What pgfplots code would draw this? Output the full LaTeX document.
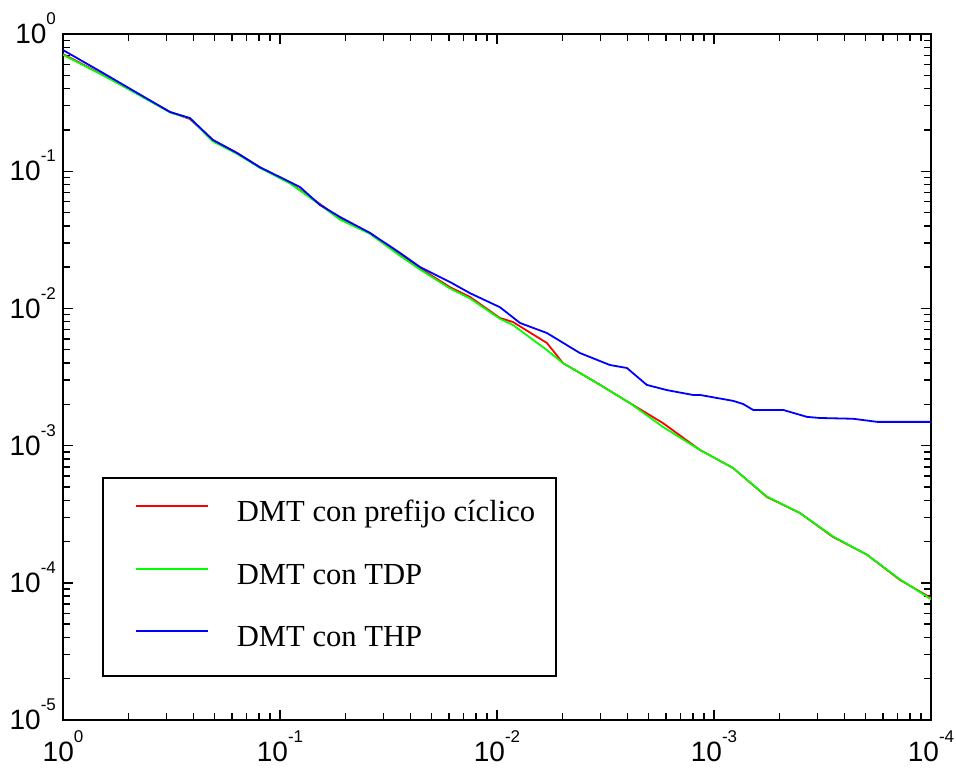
\documentclass[border=0pt]{standalone}
\usepackage{fontspec}
\setmainfont{Liberation Serif}
\newfontfamily\arialf{Liberation Sans}
\usepackage{pgfplots}
\pgfplotsset{compat=1.18}

% tick label: 10 with a raised exponent, in the sans font
\newcommand\tl[1]{10\raisebox{0.68em}[0pt][0pt]{\fontsize{8.5}{8.5}\selectfont #1}}

\begin{document}
\begin{tikzpicture}
\begin{axis}[
    name=ax, at={(0pt,0pt)}, anchor=south west,
    scale only axis, width=434pt, height=343pt,
    xmode=log, ymode=log,
    x dir=reverse,
    xmin=1e-4, xmax=1, ymin=1e-5, ymax=1,
    xtick={1,0.1,0.01,0.001,0.0001},
    xticklabels={\tl{0},\tl{-1},\tl{-2},\tl{-3},\tl{-4}},
    ytick={1,0.1,0.01,0.001,0.0001,0.00001},
    yticklabels={\tl{0},\tl{-1},\tl{-2},\tl{-3},\tl{-4},\tl{-5}},
    tick align=inside,
    major tick length=5pt, minor tick length=3.3pt,
    tick style={draw=black, line width=0.6pt},
    axis line style={line width=1.2pt},
    tick label style={font=\arialf\fontsize{14}{16}\selectfont},
    xticklabel style={inner sep=0pt, yshift=-11pt},
    unbounded coords=jump,
    legend cell align=left,
    legend image code/.code={\draw[#1] (0pt,4pt) -- (36pt,4pt);},
    legend style={at={(rel axis cs:0.045,0.063)}, anchor=south west,
        draw=black, line width=1pt, inner xsep=16pt, inner ysep=11.5pt,
        row sep=17.75pt, column sep=14pt,
        font=\fontsize{15.3}{17}\selectfont,
        nodes={inner sep=0pt, text height=10.5pt, text depth=3pt}},
]
% tick marks on all four sides as short segments (major 5pt, minor 3.3pt)
\addplot[black, line width=0.7pt, forget plot] coordinates {
(1,1e-5) (1,1.1827e-5) (1,nan) (0.1,1e-5) (0.1,1.1827e-5) (0.1,nan)
(0.01,1e-5) (0.01,1.1827e-5) (0.01,nan) (0.001,1e-5) (0.001,1.1827e-5) (0.001,nan)
(0.0001,1e-5) (0.0001,1.1827e-5) (0.0001,nan)
(0.1,1) (0.1,0.8455) (0.1,nan) (0.01,1) (0.01,0.8455) (0.01,nan)
(0.001,1) (0.001,0.8455) (0.001,nan)
(0.5,1e-5) (0.5,1.117e-5) (0.5,nan) (0.33333,1e-5) (0.33333,1.117e-5) (0.33333,nan)
(0.25,1e-5) (0.25,1.117e-5) (0.25,nan) (0.2,1e-5) (0.2,1.117e-5) (0.2,nan)
(0.16667,1e-5) (0.16667,1.117e-5) (0.16667,nan) (0.14286,1e-5) (0.14286,1.117e-5) (0.14286,nan)
(0.125,1e-5) (0.125,1.117e-5) (0.125,nan) (0.11111,1e-5) (0.11111,1.117e-5) (0.11111,nan)
(0.05,1e-5) (0.05,1.117e-5) (0.05,nan) (0.033333,1e-5) (0.033333,1.117e-5) (0.033333,nan)
(0.025,1e-5) (0.025,1.117e-5) (0.025,nan) (0.02,1e-5) (0.02,1.117e-5) (0.02,nan)
(0.016667,1e-5) (0.016667,1.117e-5) (0.016667,nan) (0.014286,1e-5) (0.014286,1.117e-5) (0.014286,nan)
(0.0125,1e-5) (0.0125,1.117e-5) (0.0125,nan) (0.011111,1e-5) (0.011111,1.117e-5) (0.011111,nan)
(0.005,1e-5) (0.005,1.117e-5) (0.005,nan) (0.0033333,1e-5) (0.0033333,1.117e-5) (0.0033333,nan)
(0.0025,1e-5) (0.0025,1.117e-5) (0.0025,nan) (0.002,1e-5) (0.002,1.117e-5) (0.002,nan)
(0.0016667,1e-5) (0.0016667,1.117e-5) (0.0016667,nan) (0.0014286,1e-5) (0.0014286,1.117e-5) (0.0014286,nan)
(0.00125,1e-5) (0.00125,1.117e-5) (0.00125,nan) (0.0011111,1e-5) (0.0011111,1.117e-5) (0.0011111,nan)
(0.0005,1e-5) (0.0005,1.117e-5) (0.0005,nan) (0.00033333,1e-5) (0.00033333,1.117e-5) (0.00033333,nan)
(0.00025,1e-5) (0.00025,1.117e-5) (0.00025,nan) (0.0002,1e-5) (0.0002,1.117e-5) (0.0002,nan)
(0.00016667,1e-5) (0.00016667,1.117e-5) (0.00016667,nan) (0.00014286,1e-5) (0.00014286,1.117e-5) (0.00014286,nan)
(0.000125,1e-5) (0.000125,1.117e-5) (0.000125,nan) (0.00011111,1e-5) (0.00011111,1.117e-5) (0.00011111,nan)
(0.5,1) (0.5,0.8953) (0.5,nan) (0.33333,1) (0.33333,0.8953) (0.33333,nan)
(0.25,1) (0.25,0.8953) (0.25,nan) (0.2,1) (0.2,0.8953) (0.2,nan)
(0.16667,1) (0.16667,0.8953) (0.16667,nan) (0.14286,1) (0.14286,0.8953) (0.14286,nan)
(0.125,1) (0.125,0.8953) (0.125,nan) (0.11111,1) (0.11111,0.8953) (0.11111,nan)
(0.05,1) (0.05,0.8953) (0.05,nan) (0.033333,1) (0.033333,0.8953) (0.033333,nan)
(0.025,1) (0.025,0.8953) (0.025,nan) (0.02,1) (0.02,0.8953) (0.02,nan)
(0.016667,1) (0.016667,0.8953) (0.016667,nan) (0.014286,1) (0.014286,0.8953) (0.014286,nan)
(0.0125,1) (0.0125,0.8953) (0.0125,nan) (0.011111,1) (0.011111,0.8953) (0.011111,nan)
(0.005,1) (0.005,0.8953) (0.005,nan) (0.0033333,1) (0.0033333,0.8953) (0.0033333,nan)
(0.0025,1) (0.0025,0.8953) (0.0025,nan) (0.002,1) (0.002,0.8953) (0.002,nan)
(0.0016667,1) (0.0016667,0.8953) (0.0016667,nan) (0.0014286,1) (0.0014286,0.8953) (0.0014286,nan)
(0.00125,1) (0.00125,0.8953) (0.00125,nan) (0.0011111,1) (0.0011111,0.8953) (0.0011111,nan)
(0.0005,1) (0.0005,0.8953) (0.0005,nan) (0.00033333,1) (0.00033333,0.8953) (0.00033333,nan)
(0.00025,1) (0.00025,0.8953) (0.00025,nan) (0.0002,1) (0.0002,0.8953) (0.0002,nan)
(0.00016667,1) (0.00016667,0.8953) (0.00016667,nan) (0.00014286,1) (0.00014286,0.8953) (0.00014286,nan)
(0.000125,1) (0.000125,0.8953) (0.000125,nan) (0.00011111,1) (0.00011111,0.8953) (0.00011111,nan)
(1,0.1) (0.8993,0.1) (nan,0.1) (1,0.01) (0.8993,0.01) (nan,0.01)
(1,0.001) (0.8993,0.001) (nan,0.001) (1,0.0001) (0.8993,0.0001) (nan,0.0001)
(0.0001,0.1) (1.112e-4,0.1) (nan,0.1) (0.0001,0.01) (1.112e-4,0.01) (nan,0.01)
(0.0001,0.001) (1.112e-4,0.001) (nan,0.001) (0.0001,0.0001) (1.112e-4,0.0001) (nan,0.0001)
(1,0.9) (0.9324,0.9) (nan,0.9) (1,0.8) (0.9324,0.8) (nan,0.8) (1,0.7) (0.9324,0.7) (nan,0.7)
(1,0.6) (0.9324,0.6) (nan,0.6) (1,0.5) (0.9324,0.5) (nan,0.5) (1,0.4) (0.9324,0.4) (nan,0.4)
(1,0.3) (0.9324,0.3) (nan,0.3) (1,0.2) (0.9324,0.2) (nan,0.2)
(1,0.09) (0.9324,0.09) (nan,0.09) (1,0.08) (0.9324,0.08) (nan,0.08) (1,0.07) (0.9324,0.07) (nan,0.07)
(1,0.06) (0.9324,0.06) (nan,0.06) (1,0.05) (0.9324,0.05) (nan,0.05) (1,0.04) (0.9324,0.04) (nan,0.04)
(1,0.03) (0.9324,0.03) (nan,0.03) (1,0.02) (0.9324,0.02) (nan,0.02)
(1,0.009) (0.9324,0.009) (nan,0.009) (1,0.008) (0.9324,0.008) (nan,0.008) (1,0.007) (0.9324,0.007) (nan,0.007)
(1,0.006) (0.9324,0.006) (nan,0.006) (1,0.005) (0.9324,0.005) (nan,0.005) (1,0.004) (0.9324,0.004) (nan,0.004)
(1,0.003) (0.9324,0.003) (nan,0.003) (1,0.002) (0.9324,0.002) (nan,0.002)
(1,0.0009) (0.9324,0.0009) (nan,0.0009) (1,0.0008) (0.9324,0.0008) (nan,0.0008) (1,0.0007) (0.9324,0.0007) (nan,0.0007)
(1,0.0006) (0.9324,0.0006) (nan,0.0006) (1,0.0005) (0.9324,0.0005) (nan,0.0005) (1,0.0004) (0.9324,0.0004) (nan,0.0004)
(1,0.0003) (0.9324,0.0003) (nan,0.0003) (1,0.0002) (0.9324,0.0002) (nan,0.0002)
(1,0.00009) (0.9324,0.00009) (nan,0.00009) (1,0.00008) (0.9324,0.00008) (nan,0.00008) (1,0.00007) (0.9324,0.00007) (nan,0.00007)
(1,0.00006) (0.9324,0.00006) (nan,0.00006) (1,0.00005) (0.9324,0.00005) (nan,0.00005) (1,0.00004) (0.9324,0.00004) (nan,0.00004)
(1,0.00003) (0.9324,0.00003) (nan,0.00003) (1,0.00002) (0.9324,0.00002) (nan,0.00002)
(0.0001,0.9) (1.0725e-4,0.9) (nan,0.9) (0.0001,0.8) (1.0725e-4,0.8) (nan,0.8) (0.0001,0.7) (1.0725e-4,0.7) (nan,0.7)
(0.0001,0.6) (1.0725e-4,0.6) (nan,0.6) (0.0001,0.5) (1.0725e-4,0.5) (nan,0.5) (0.0001,0.4) (1.0725e-4,0.4) (nan,0.4)
(0.0001,0.3) (1.0725e-4,0.3) (nan,0.3) (0.0001,0.2) (1.0725e-4,0.2) (nan,0.2)
(0.0001,0.09) (1.0725e-4,0.09) (nan,0.09) (0.0001,0.08) (1.0725e-4,0.08) (nan,0.08) (0.0001,0.07) (1.0725e-4,0.07) (nan,0.07)
(0.0001,0.06) (1.0725e-4,0.06) (nan,0.06) (0.0001,0.05) (1.0725e-4,0.05) (nan,0.05) (0.0001,0.04) (1.0725e-4,0.04) (nan,0.04)
(0.0001,0.03) (1.0725e-4,0.03) (nan,0.03) (0.0001,0.02) (1.0725e-4,0.02) (nan,0.02)
(0.0001,0.009) (1.0725e-4,0.009) (nan,0.009) (0.0001,0.008) (1.0725e-4,0.008) (nan,0.008) (0.0001,0.007) (1.0725e-4,0.007) (nan,0.007)
(0.0001,0.006) (1.0725e-4,0.006) (nan,0.006) (0.0001,0.005) (1.0725e-4,0.005) (nan,0.005) (0.0001,0.004) (1.0725e-4,0.004) (nan,0.004)
(0.0001,0.003) (1.0725e-4,0.003) (nan,0.003) (0.0001,0.002) (1.0725e-4,0.002) (nan,0.002)
(0.0001,0.0009) (1.0725e-4,0.0009) (nan,0.0009) (0.0001,0.0008) (1.0725e-4,0.0008) (nan,0.0008) (0.0001,0.0007) (1.0725e-4,0.0007) (nan,0.0007)
(0.0001,0.0006) (1.0725e-4,0.0006) (nan,0.0006) (0.0001,0.0005) (1.0725e-4,0.0005) (nan,0.0005) (0.0001,0.0004) (1.0725e-4,0.0004) (nan,0.0004)
(0.0001,0.0003) (1.0725e-4,0.0003) (nan,0.0003) (0.0001,0.0002) (1.0725e-4,0.0002) (nan,0.0002)
(0.0001,0.00009) (1.0725e-4,0.00009) (nan,0.00009) (0.0001,0.00008) (1.0725e-4,0.00008) (nan,0.00008) (0.0001,0.00007) (1.0725e-4,0.00007) (nan,0.00007)
(0.0001,0.00006) (1.0725e-4,0.00006) (nan,0.00006) (0.0001,0.00005) (1.0725e-4,0.00005) (nan,0.00005) (0.0001,0.00004) (1.0725e-4,0.00004) (nan,0.00004)
(0.0001,0.00003) (1.0725e-4,0.00003) (nan,0.00003) (0.0001,0.00002) (1.0725e-4,0.00002) (nan,0.00002)
};
\addplot[red, line width=0.9pt] coordinates {
(1,0.715) (0.654,0.503) (0.507,0.404) (0.321,0.270) (0.260,0.240) (0.204,0.169)
(0.158,0.136) (0.124,0.107) (0.0899,0.082) (0.0654,0.0577) (0.0529,0.0450)
(0.0385,0.0355) (0.028,0.0245) (0.0226,0.0196) (0.0165,0.0143) (0.0133,0.0121)
(0.00969,0.00851) (0.00844,0.00796) (0.00589,0.0056) (0.00497,0.0040)
(0.00346,0.00286) (0.00244,0.00204) (0.00172,0.00146) (0.00116,0.000929)
(0.000817,0.000687) (0.00057,0.000422) (0.000402,0.000323) (0.000283,0.000216)
(0.000197,0.00016) (0.000139,0.000105) (0.0001,7.75e-5)
};
\addlegendentry{DMT con prefijo cíclico\hspace*{-5.5pt}}
\addplot[green, line width=0.9pt] coordinates {
(1,0.705) (0.654,0.500) (0.507,0.402) (0.321,0.268) (0.260,0.243) (0.204,0.165)
(0.158,0.134) (0.124,0.106) (0.0899,0.0815) (0.0654,0.0570) (0.0529,0.0444)
(0.0385,0.0350) (0.028,0.0242) (0.0226,0.0192) (0.0165,0.0140) (0.0133,0.0118)
(0.00969,0.00840) (0.00844,0.00757) (0.00589,0.00497) (0.00497,0.0040)
(0.00346,0.00286) (0.00244,0.00204) (0.00172,0.00137) (0.00116,0.000929)
(0.000817,0.000687) (0.00057,0.000425) (0.000402,0.000323) (0.000283,0.000218)
(0.000197,0.00016) (0.000139,0.000106) (0.0001,7.6e-5)
};
\addlegendentry{DMT con TDP}
\addplot[blue, line width=0.9pt] coordinates {
(1,0.764) (0.654,0.52) (0.507,0.411) (0.321,0.270) (0.260,0.244) (0.204,0.169)
(0.158,0.136) (0.124,0.107) (0.0899,0.0834) (0.0809,0.0767) (0.0654,0.0567)
(0.0529,0.0464) (0.0385,0.0355) (0.0280,0.0254) (0.0226,0.0200) (0.0165,0.0156)
(0.0133,0.0129) (0.00969,0.0102) (0.00783,0.00783) (0.00589,0.00662)
(0.00415,0.00473) (0.00302,0.00387) (0.00252,0.00368) (0.00204,0.00277)
(0.00165,0.00254) (0.00125,0.00234) (0.00116,0.00234) (0.000817,0.00212)
(0.000734,0.00201) (0.00066,0.00182) (0.00048,0.00182) (0.000373,0.00162)
(0.000325,0.00159) (0.000229,0.00157) (0.000177,0.00149) (0.0001,0.00149)
};
\addlegendentry{DMT con THP}
\end{axis}
\pgfresetboundingbox
\path[use as bounding box] ([xshift=-31.5pt,yshift=-23.5pt]ax.south west)
    rectangle ([xshift=12.5pt,yshift=17pt]ax.north east);
\end{tikzpicture}
\end{document}
